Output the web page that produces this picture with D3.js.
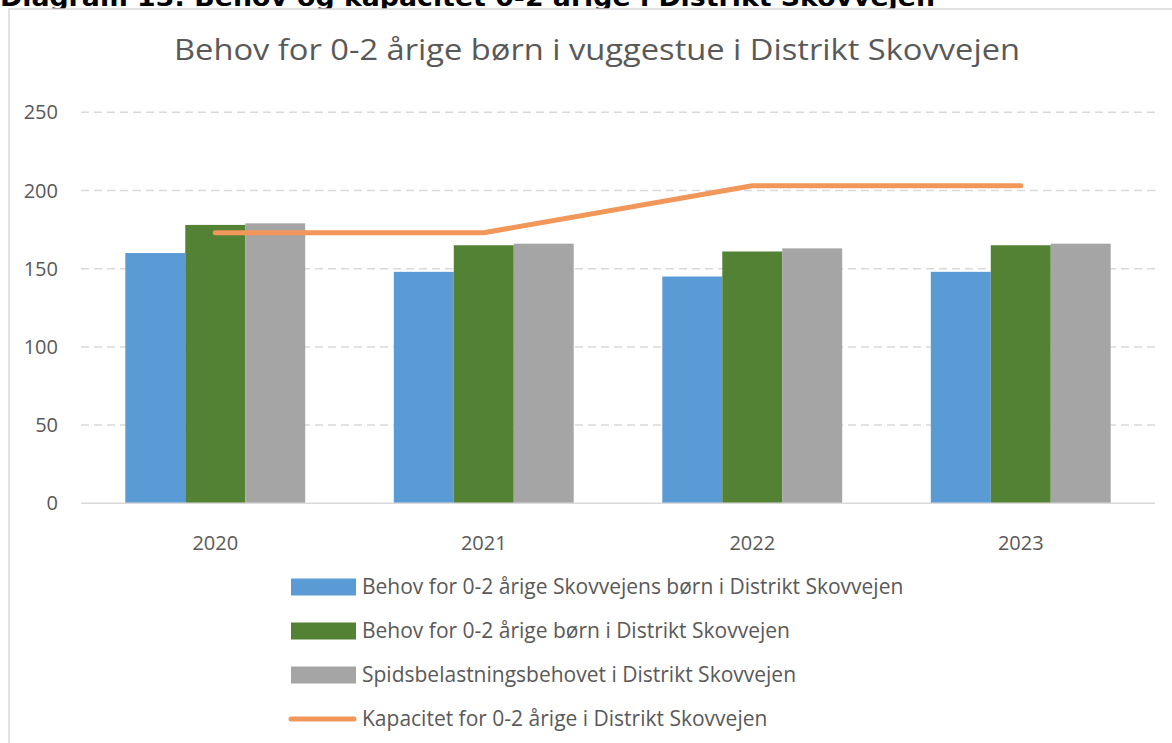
<!DOCTYPE html>
<html>
<head>
<meta charset="utf-8">
<script src="https://cdn.jsdelivr.net/npm/d3@7"></script>
<style>
  body { margin: 0; background: #fff; }
  svg { display: block; }
</style>
</head>
<body>
<svg id="chart" width="1172" height="743"></svg>
<script>
// data
var years = ['2020', '2021', '2022', '2023'];
var behovSkovvejensBorn = [160, 148, 145, 148];
var behovBornDistrikt = [178, 165, 161, 165];
var spidsbelastning = [179, 166, 163, 166];
var kapacitet = [173, 173, 203, 203];
var yTicks = [0, 50, 100, 150, 200, 250];

var seriesNames = [
  'Behov for 0-2 årige Skovvejens børn i Distrikt Skovvejen',
  'Behov for 0-2 årige børn i Distrikt Skovvejen',
  'Spidsbelastningsbehovet i Distrikt Skovvejen',
  'Kapacitet for 0-2 årige i Distrikt Skovvejen'
];
var barColors = ['#5b9bd5', '#548235', '#a5a5a5'];
var lineColor = '#f1975a';

var svg = d3.select('#chart');
var textColor = '#595959';
var font = '"Open Sans", sans-serif';

// outer caption, cut by the top of the picture
svg.append('text')
  .attr('x', 0)
  .attr('y', 6)
  .attr('font-family', '"DejaVu Sans", sans-serif')
  .attr('font-weight', 'bold')
  .attr('font-size', 25)
  .attr('textLength', 935)
  .attr('lengthAdjust', 'spacingAndGlyphs')
  .attr('fill', '#000')
  .text('Diagram 13: Behov og kapacitet 0-2 årige i Distrikt Skovvejen');

// chart frame
svg.append('rect')
  .attr('x', 9).attr('y', 9)
  .attr('width', 1170).attr('height', 760)
  .attr('fill', '#fff')
  .attr('stroke', '#d9d9d9')
  .attr('stroke-width', 1.5);

svg.append('text')
  .attr('x', 597)
  .attr('y', 60)
  .attr('text-anchor', 'middle')
  .attr('font-family', font)
  .attr('font-size', 30)
  .attr('textLength', 846)
  .attr('lengthAdjust', 'spacingAndGlyphs')
  .attr('fill', textColor)
  .text('Behov for 0-2 årige børn i vuggestue i Distrikt Skovvejen');

var plotLeft = 81, plotRight = 1155, plotTop = 112.3, plotBottom = 503.3;

var x = d3.scaleBand().domain(years).range([plotLeft, plotRight]).paddingInner(0.33).paddingOuter(0.165);
var y = d3.scaleLinear().domain([0, 250]).range([plotBottom, plotTop]);

// gridlines
svg.append('g')
  .selectAll('line')
  .data(yTicks.filter(function(d) { return d > 0; }))
  .enter()
  .append('line')
  .attr('x1', plotLeft).attr('x2', plotRight)
  .attr('y1', function(d) { return y(d); })
  .attr('y2', function(d) { return y(d); })
  .attr('stroke', '#d9d9d9')
  .attr('stroke-width', 1.5)
  .attr('stroke-dasharray', '8,5');

// y labels
svg.append('g')
  .selectAll('text')
  .data(yTicks)
  .enter()
  .append('text')
  .attr('x', 58)
  .attr('y', function(d) { return y(d) + 7; })
  .attr('text-anchor', 'end')
  .attr('font-family', font)
  .attr('font-size', 20)
  .attr('fill', textColor)
  .text(function(d) { return d; });

// bars
var seriesValues = [behovSkovvejensBorn, behovBornDistrikt, spidsbelastning];
var xInner = d3.scaleBand().domain(d3.range(3)).range([0, x.bandwidth()]);

seriesValues.forEach(function(values, s) {
  svg.append('g')
    .selectAll('rect')
    .data(values)
    .enter()
    .append('rect')
    .attr('x', function(d, i) { return x(years[i]) + xInner(s); })
    .attr('y', function(d) { return y(d); })
    .attr('width', xInner.bandwidth())
    .attr('height', function(d) { return y(0) - y(d); })
    .attr('fill', barColors[s]);
});

// x axis line
svg.append('line')
  .attr('x1', plotLeft).attr('x2', plotRight)
  .attr('y1', y(0)).attr('y2', y(0))
  .attr('stroke', '#d9d9d9')
  .attr('stroke-width', 1.5);

svg.append('g')
  .selectAll('text')
  .data(years)
  .enter()
  .append('text')
  .attr('x', function(d) { return x(d) + x.bandwidth() / 2; })
  .attr('y', 550)
  .attr('text-anchor', 'middle')
  .attr('font-family', font)
  .attr('font-size', 20)
  .attr('fill', textColor)
  .text(function(d) { return d; });

// capacity line
var line = d3.line()
  .x(function(d, i) { return x(years[i]) + x.bandwidth() / 2; })
  .y(function(d) { return y(d); });

svg.append('path')
  .datum(kapacitet)
  .attr('d', line)
  .attr('fill', 'none')
  .attr('stroke', lineColor)
  .attr('stroke-width', 5)
  .attr('stroke-linecap', 'round')
  .attr('stroke-linejoin', 'round');

// legend
var legend = svg.append('g');
var legendRows = legend.selectAll('g')
  .data(seriesNames)
  .enter()
  .append('g')
  .attr('transform', function(d, i) { return 'translate(0,' + (587 + i * 44) + ')'; });

legendRows.each(function(d, i) {
  var row = d3.select(this);
  if (i < 3) {
    row.append('rect')
      .attr('x', 291).attr('y', -8.5)
      .attr('width', 65).attr('height', 17)
      .attr('fill', barColors[i]);
  } else {
    row.append('line')
      .attr('x1', 291).attr('x2', 354)
      .attr('y1', 0).attr('y2', 0)
      .attr('stroke', lineColor)
      .attr('stroke-width', 5)
      .attr('stroke-linecap', 'round');
  }
  row.append('text')
    .attr('x', 362)
    .attr('y', 7)
    .attr('font-family', font)
    .attr('font-size', 21)
    .attr('fill', textColor)
    .text(d);
});
</script>
</body>
</html>
